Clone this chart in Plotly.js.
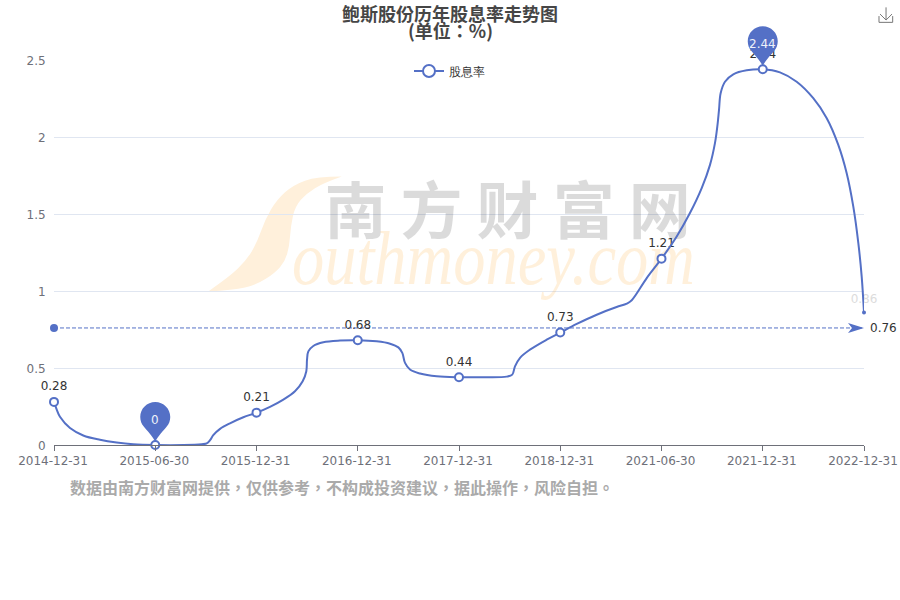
<!DOCTYPE html>
<html>
<head>
<meta charset="utf-8">
<script src="https://cdn.plot.ly/plotly-3.0.1.min.js"></script>
<style>html,body{margin:0;padding:0;background:#fff}#chart{width:900px;height:600px}</style>
</head>
<body>
<div id="chart"></div>
<script>
const categories = ['2014-12-31','2015-06-30','2015-12-31','2016-12-31','2017-12-31','2018-12-31','2021-06-30','2021-12-31','2022-12-31'];
const yieldValues = [0.28,0,0.21,0.68,0.44,0.73,1.21,2.44,0.86];
const averageValue = 0.76;
const pinCategories = [1,7];
const yTicks = [0,0.5,1,1.5,2,2.5];
const yTickLabels = ['0','0.5','1','1.5','2','2.5'];
// the drawn curve (position along the category axis, value)
const curvePos = [0,.027,.059,.158,.289,.454,.619,.783,1,1.28,1.459,1.508,1.541,1.573,1.64,1.738,1.87,2,2.133,2.265,2.38,2.456,2.492,2.499,2.512,2.561,2.66,2.825,3,3.187,3.319,3.401,3.44,3.467,3.516,3.615,3.78,4,4.24,4.471,4.526,4.553,4.603,4.701,4.866,5,5.163,5.36,5.557,5.657,5.706,5.854,6,6.15,6.281,6.397,6.479,6.528,6.551,6.568,6.584,6.627,6.709,6.841,7,7.17,7.335,7.499,7.632,7.746,7.829,7.894,7.944,7.977,8];
const curveVal = [.28,.23,.183,.11,.062,.034,.016,.005,0,0,.005,.01,.031,.064,.105,.141,.18,.21,.248,.295,.349,.414,.479,.554,.608,.643,.667,.678,.68,.673,.658,.634,.598,.533,.49,.464,.446,.44,.44,.444,.457,.511,.566,.619,.684,.73,.786,.846,.896,.918,.94,1.084,1.21,1.354,1.506,1.668,1.819,1.96,2.067,2.176,2.284,2.359,2.407,2.433,2.44,2.42,2.359,2.252,2.122,1.949,1.765,1.549,1.311,1.095,.86];

const seriesName = '股息率';
const titleLine1 = '鲍斯股份历年股息率走势图';
const titleLine2 = '(单位：%)';
const footnote = '数据由南方财富网提供，仅供参考，不构成投资建议，据此操作，风险自担。';
const watermarkCn = '南 方 财 富 网';
const watermarkEn = 'outhmoney.com';

const BLUE = '#5470c6';
const CJK = 'Noto Sans CJK TC';
const L = 54, R = 864, T = 60, B = 445.5;
const X_MAX = categories.length - 1, Y_MAX = yTicks[yTicks.length - 1];
const px = v => (v - L) / (R - L);
const py = v => (B - v) / (B - T);
const P = (x, y) => px(x).toFixed(4) + ',' + py(y).toFixed(4);
const lastIdx = categories.length - 1;

const swoosh = [[341.7,176.7],[316.7,176.7],[293.3,185],[276.7,200],[265,220],[256.7,243.3],[246.7,260],[230,276.7],[208.3,291.7],
  [233.3,290.7],[256.7,285],[275,273.3],[285,261.7],[289.3,246.7],[290.7,226.7],[295,206.7],[306.7,193.3],[323.3,183.3],[341.7,176.7]];
function swooshPath() {
  let d = 'M' + P(swoosh[0][0], swoosh[0][1]);
  for (let i = 1; i < swoosh.length - 1; i++) {
    if (i === 8) continue;
    const a = swoosh[i], b = swoosh[i + 1];
    const end = (i === swoosh.length - 2 || i === 7) ? b : [(a[0] + b[0]) / 2, (a[1] + b[1]) / 2];
    d += ' Q' + P(a[0], a[1]) + ' ' + P(end[0], end[1]);
  }
  return d + ' Z';
}

const pinPath = 'M0,3 C-2.5,9 -8,14 -11.5,18.5 C-13.8,21 -15,24.5 -15,28 C-15,36.3 -8.3,43 0,43 C8.3,43 15,36.3 15,28 C15,24.5 13.8,21 11.5,18.5 C8,14 2.5,9 0,3 Z';
const pinShapes = pinCategories.map(i => ({
  type: 'path', layer: 'above', xref: 'paper', yref: 'paper', xsizemode: 'pixel', ysizemode: 'pixel',
  xanchor: i / X_MAX, yanchor: yieldValues[i] / Y_MAX, path: pinPath, fillcolor: BLUE, line: {width: 0}
}));
const pinNotes = pinCategories.map(i => ({
  xref: 'x', yref: 'y', x: i, y: yieldValues[i], yshift: 25, showarrow: false, text: String(yieldValues[i]),
  font: {family: 'DejaVu Sans', size: 12, color: '#eef1fa'}
}));

const traces = [
  {x: [4.48], y: [1.47], mode: 'text', text: [watermarkCn], textposition: 'middle center', cliponaxis: false, hoverinfo: 'skip', showlegend: false,
   textfont: {family: CJK, size: 62, weight: 700, color: 'rgba(0,0,0,0.14)'}},
  {x: [4.34], y: [1.17], mode: 'text', text: [watermarkEn], textposition: 'middle center', cliponaxis: false, hoverinfo: 'skip', showlegend: false,
   textfont: {family: 'Liberation Serif', size: 76, style: 'italic', color: 'rgba(255,160,30,0.16)'}},
  {x: [0, X_MAX], y: [averageValue, averageValue], mode: 'lines', cliponaxis: false, hoverinfo: 'skip', showlegend: false,
   line: {color: BLUE, width: 1, dash: '4px,2px'}},
  {x: [0], y: [averageValue], mode: 'markers', cliponaxis: false, hoverinfo: 'skip', showlegend: false,
   marker: {color: BLUE, size: 8}},
  {x: categories.map((c, i) => i), y: yieldValues, mode: 'markers+text', cliponaxis: false, hoverinfo: 'skip', showlegend: false,
   text: yieldValues.map(String), textposition: 'top center',
   textfont: {family: 'DejaVu Sans', size: 12, color: categories.map((c, i) => i === lastIdx ? '#dcdcdc' : '#333')},
   marker: {color: 'rgba(0,0,0,0)', opacity: 1, size: categories.map((c, i) => i === lastIdx ? 9 : 12), line: {width: 0}}},
  {x: curvePos, y: curveVal, mode: 'lines', cliponaxis: false, hoverinfo: 'skip', showlegend: false,
   line: {color: BLUE, width: 2, shape: 'spline', smoothing: 1}},
  {x: categories.map((c, i) => i), y: yieldValues, mode: 'markers', cliponaxis: false, hoverinfo: 'skip', showlegend: false,
   marker: {color: categories.map((c, i) => i === lastIdx ? BLUE : '#fff'), opacity: 1,
            size: categories.map((c, i) => i === lastIdx ? 2 : 8),
            line: {color: BLUE, width: 2}}},
  {x: [null], y: [null], name: seriesName, mode: 'lines+markers', hoverinfo: 'skip', showlegend: true,
   line: {color: BLUE, width: 2}, marker: {color: '#fff', size: 12, line: {color: BLUE, width: 2}}}
];

const layout = {
  width: 900, height: 600, paper_bgcolor: '#fff', plot_bgcolor: 'rgba(0,0,0,0)',
  margin: {l: L, r: 900 - R, t: T, b: 600 - B, pad: 0},
  hovermode: false, dragmode: false,
  font: {family: 'DejaVu Sans', size: 12, color: '#6e7079'},
  title: {text: titleLine1, x: 0.5, xanchor: 'center', xref: 'container', y: 1 - 15 / 600, yanchor: 'middle',
          font: {family: CJK, size: 18, weight: 700, color: '#464646'}},
  xaxis: {range: [0, X_MAX], tickmode: 'array', tickvals: categories.map((c, i) => i), ticktext: categories,
          showgrid: false, zeroline: false, showline: true, linecolor: '#6e7079', linewidth: 1,
          ticks: 'outside', ticklen: 5, tickcolor: '#6e7079', ticklabelshift: -1,
          tickfont: {family: 'DejaVu Sans', size: 12, color: '#6e7079'}},
  yaxis: {range: [0, Y_MAX], tickmode: 'array', tickvals: yTicks, ticktext: yTickLabels,
          showgrid: true, gridcolor: '#e0e6f1', gridwidth: 1, zeroline: false, showline: false,
          ticks: 'outside', ticklen: 5, tickcolor: 'rgba(0,0,0,0)', ticklabelshift: 1,
          tickfont: {family: 'DejaVu Sans', size: 12, color: '#6e7079'}},
  showlegend: true,
  legend: {x: px(409), xanchor: 'left', y: py(71), yanchor: 'middle', bgcolor: 'rgba(0,0,0,0)', borderwidth: 0,
           font: {family: 'DejaVu Sans', size: 12, color: '#333'}},
  shapes: [
    {type: 'path', layer: 'below', xref: 'paper', yref: 'paper', path: swooshPath(), fillcolor: '#fff0db', line: {width: 0}},
    {type: 'path', layer: 'above', xref: 'x', yref: 'y', xsizemode: 'pixel', ysizemode: 'pixel', xanchor: X_MAX, yanchor: averageValue,
     path: 'M0,0 L-16,5 L-12,0 L-16,-5 Z', fillcolor: BLUE, line: {width: 0}},
    ...pinShapes,
    {type: 'path', layer: 'above', xref: 'paper', yref: 'paper',
     path: 'M' + P(879,16) + ' L' + P(879,22.3) + ' L' + P(892.7,22.3) + ' L' + P(892.7,16) +
           ' M' + P(886,7.3) + ' L' + P(886,20) + ' M' + P(880,14) + ' L' + P(886,20) + ' L' + P(892,14),
     line: {color: '#777', width: 1}}
  ],
  annotations: [
    {xref: 'paper', yref: 'paper', x: px(450), y: py(30), yanchor: 'middle', xanchor: 'center', showarrow: false, text: titleLine2,
     font: {family: CJK, size: 18, weight: 700, color: '#464646'}},
    ...pinNotes,
    {xref: 'x', yref: 'y', x: X_MAX, y: averageValue, xanchor: 'left', yanchor: 'middle', xshift: 4, showarrow: false, text: String(averageValue),
     font: {family: 'DejaVu Sans', size: 12, color: '#333'}},
    {xref: 'paper', yref: 'paper', x: px(68), y: py(488), xanchor: 'left', yanchor: 'middle', showarrow: false, text: footnote,
     font: {family: CJK, size: 16, weight: 700, color: '#aaaaaa'}}
  ]
};
Plotly.newPlot('chart', traces, layout, {displayModeBar: false, responsive: false}).then(() => {
  document.querySelectorAll('#chart .textpoint text').forEach(t => {
    if (t.textContent === watermarkEn) {
      t.setAttribute('textLength', '403');
      t.setAttribute('lengthAdjust', 'spacingAndGlyphs');
    }
  });
});
</script>
</body>
</html>
